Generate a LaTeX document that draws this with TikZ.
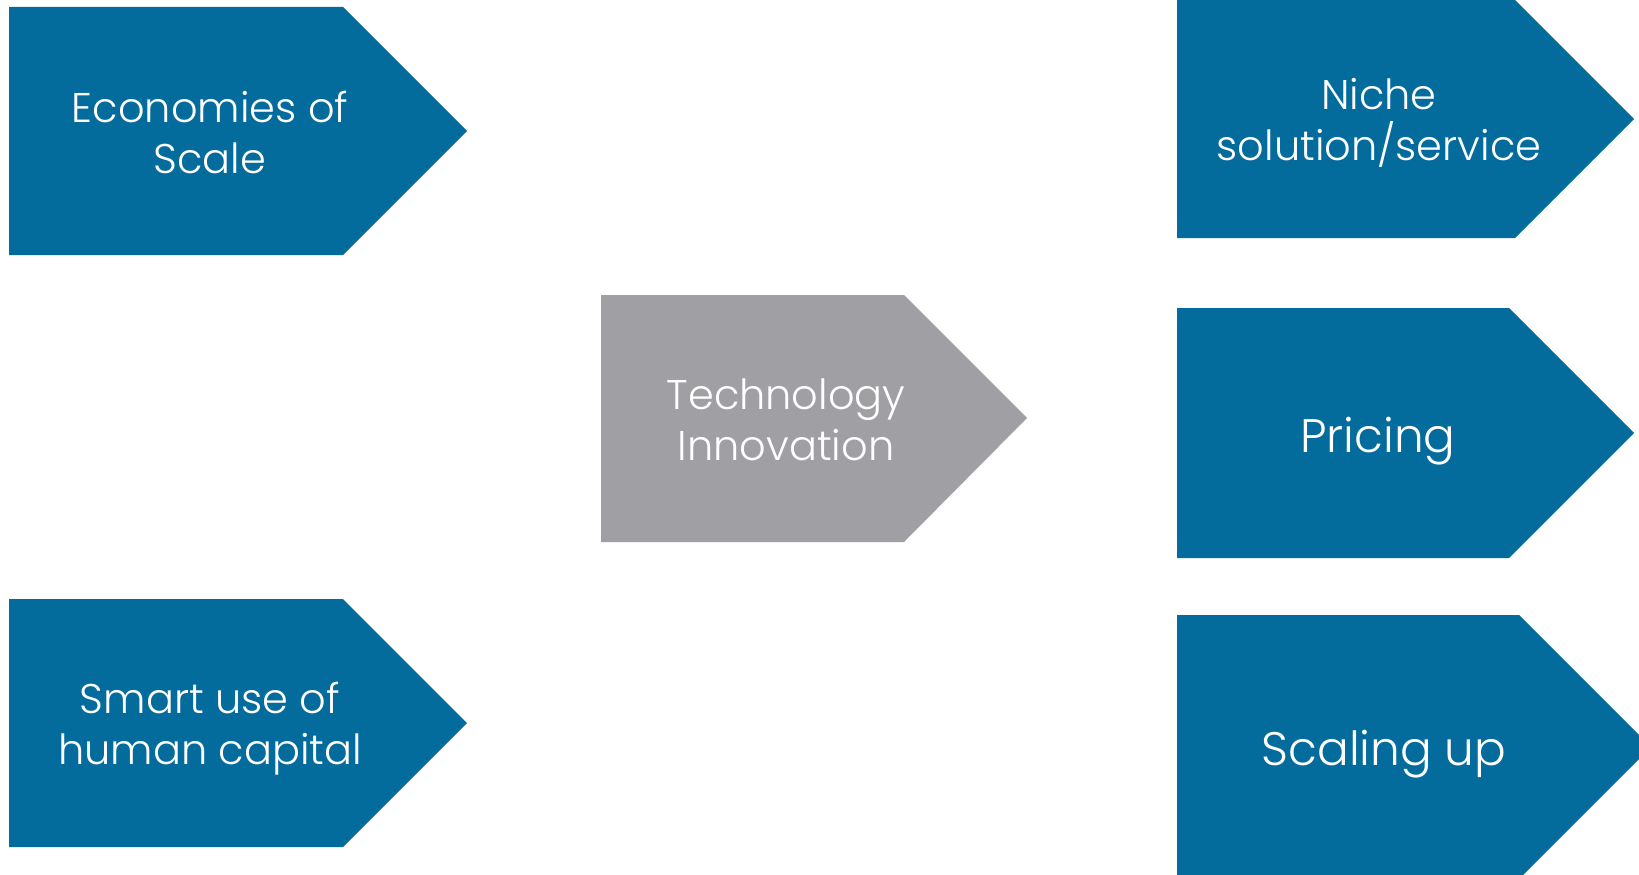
\documentclass[tikz,border=0pt]{standalone}
\usepackage{fontspec}
\setmainfont{Poppins}[UprightFont={* Light}]
\usepackage{tikz}

\definecolor{pentblue}{RGB}{3,108,157}
\definecolor{pentgrey}{RGB}{160,159,164}

\begin{document}
\begin{tikzpicture}[x=1pt,y=-1pt]
\useasboundingbox (0,0) rectangle (1639,875);

% pentagon arrows
\fill[pentblue] (9,7) -- (343,7) -- (467,131) -- (343,255) -- (9,255) -- cycle;
\fill[pentblue] (9,599) -- (343,599) -- (467,723) -- (343,847) -- (9,847) -- cycle;
\fill[pentgrey] (601,295) -- (904,295) -- (1027,418) -- (904,542) -- (601,542) -- cycle;
\fill[pentblue] (1177,0) -- (1515,0) -- (1634,119) -- (1515,238) -- (1177,238) -- cycle;
\fill[pentblue] (1177,308) -- (1509,308) -- (1634,433) -- (1509,558) -- (1177,558) -- cycle;
\fill[pentblue] (1177,615) -- (1519,615) -- (1651,747) -- (1519,879) -- (1177,879) -- cycle;

\begin{scope}[every node/.style={text=white, align=center,
              font=\fontsize{41.5}{51}\selectfont}]
    \node (eco) at (210,132) {Economies of\\Scale};
    \node (hum) at (210,729) {Smart use of\\human capital};
    \node (tec) at (786,420) {Technology\\Innovation};
    \node (nic) at (1379,123) {Niche\\solution/service};
    \node[font=\fontsize{47}{58}\selectfont, anchor=base] (pri) at (1378,452) {Pricing};
    \node[font=\fontsize{47}{58}\selectfont, anchor=base] (sca) at (1384,765) {Scaling up};
\end{scope}
\end{tikzpicture}
\end{document}
